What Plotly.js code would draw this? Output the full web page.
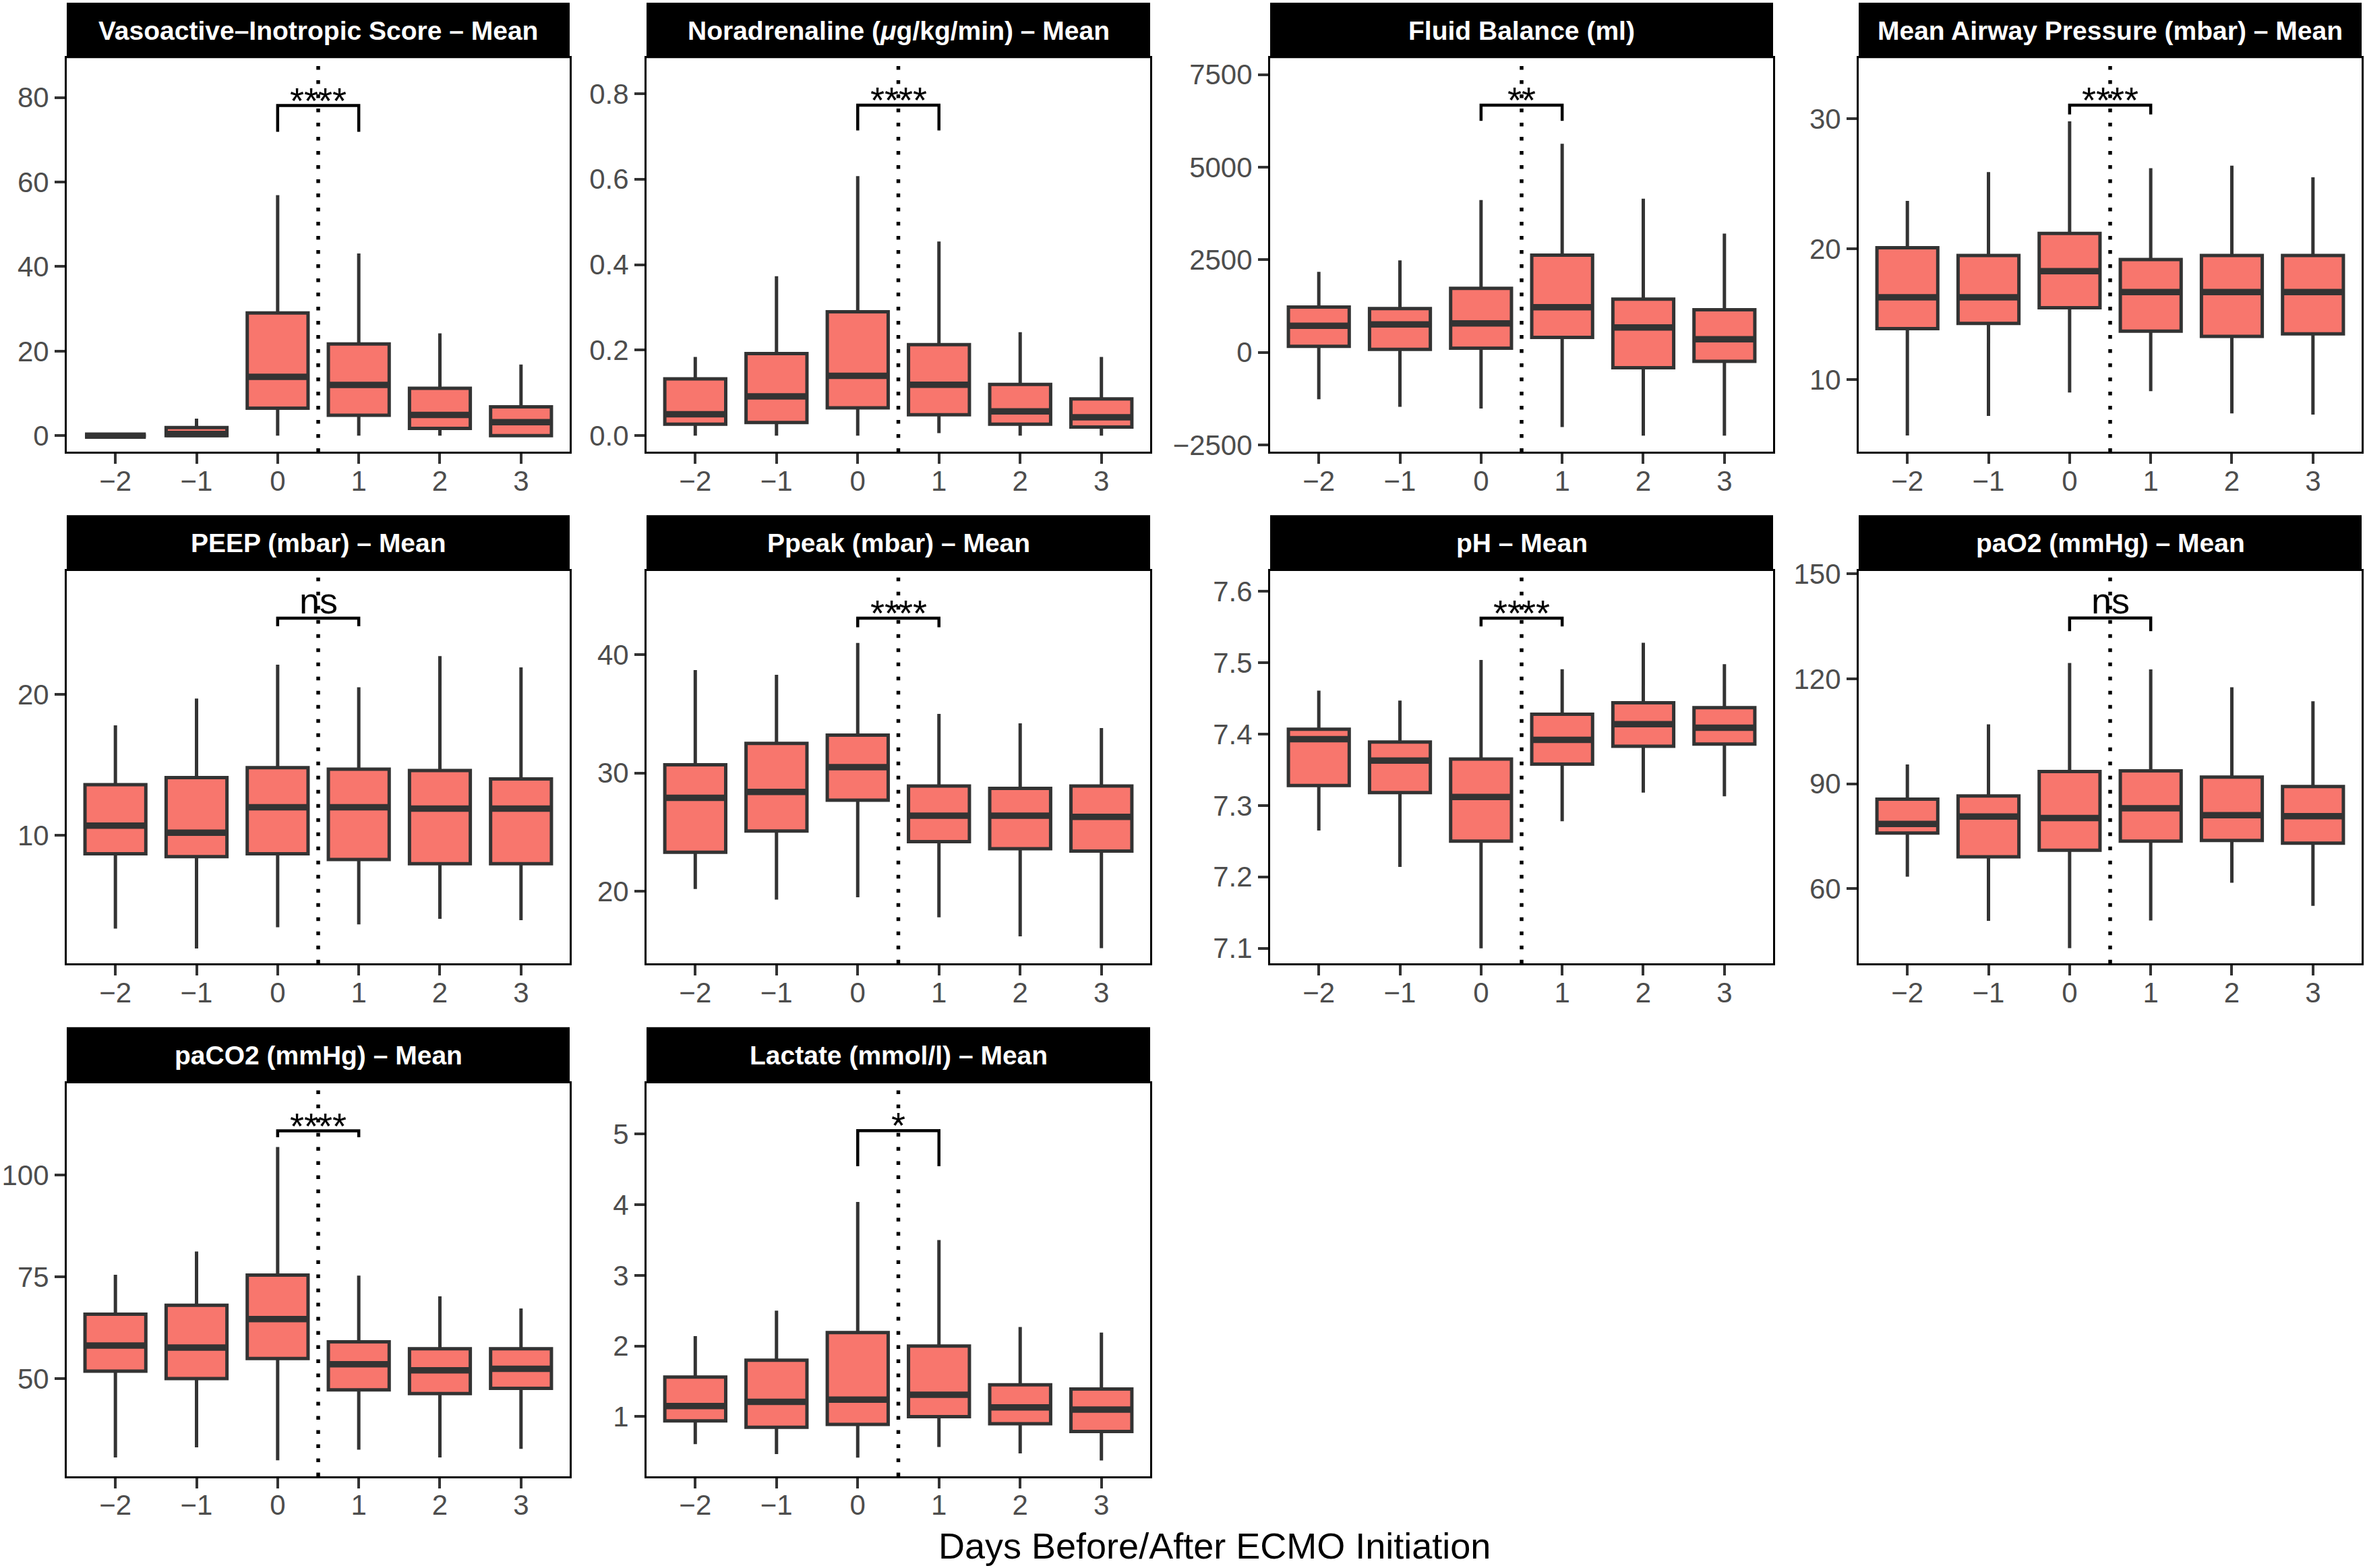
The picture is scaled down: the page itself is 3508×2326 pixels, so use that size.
<!DOCTYPE html>
<html>
<head>
<meta charset="utf-8">
<script src="https://cdn.plot.ly/plotly-3.0.1.min.js"></script>
<style>html,body{margin:0;padding:0;background:#fff;}#chart{width:3508px;height:2326px;}</style>
</head>
<body>
<div id="chart"></div>
<script>
// ---------- data ----------
const days = [-2, -1, 0, 1, 2, 3];
const xTickLabels = ['\u22122', '\u22121', '0', '1', '2', '3'];

const panelTitles = [
  'Vasoactive\u2013Inotropic Score \u2013 Mean',
  'Noradrenaline (<i>\u03bc</i>g/kg/min) \u2013 Mean',
  'Fluid Balance (ml)',
  'Mean Airway Pressure (mbar) \u2013 Mean',
  'PEEP (mbar) \u2013 Mean',
  'Ppeak (mbar) \u2013 Mean',
  'pH \u2013 Mean',
  'paO2 (mmHg) \u2013 Mean',
  'paCO2 (mmHg) \u2013 Mean',
  'Lactate (mmol/l) \u2013 Mean'
];

// Vasoactive-Inotropic Score
const visLower  = [0, 0, 0, 0, 0, 0];
const visQ1     = [0, 0, 6.5, 4.8, 1.7, 0];
const visMedian = [0, 0.4, 13.9, 12.0, 4.9, 3.2];
const visQ3     = [0, 1.9, 29.0, 21.7, 11.2, 6.8];
const visUpper  = [0, 4.0, 56.9, 43.1, 24.2, 16.8];

// Noradrenaline
const norLower  = [0, 0, 0, 0.006, 0, 0];
const norQ1     = [0.027, 0.031, 0.065, 0.049, 0.027, 0.020];
const norMedian = [0.050, 0.092, 0.140, 0.119, 0.057, 0.043];
const norQ3     = [0.133, 0.192, 0.290, 0.213, 0.120, 0.086];
const norUpper  = [0.184, 0.373, 0.607, 0.454, 0.242, 0.184];

// Fluid balance
const fluLower  = [-1271, -1474, -1518, -2021, -2251, -2251];
const fluQ1     = [160, 80, 110, 400, -420, -245];
const fluMedian = [715, 750, 777, 1218, 671, 353];
const fluQ3     = [1220, 1180, 1725, 2625, 1435, 1150];
const fluUpper  = [2171, 2480, 4113, 5631, 4148, 3204];

// Mean airway pressure
const mapLower  = [5.7, 7.2, 9.0, 9.1, 7.4, 7.3];
const mapQ1     = [13.9, 14.3, 15.5, 13.7, 13.3, 13.5];
const mapMedian = [16.3, 16.3, 18.3, 16.7, 16.7, 16.7];
const mapQ3     = [20.1, 19.5, 21.2, 19.2, 19.5, 19.5];
const mapUpper  = [23.7, 25.9, 29.8, 26.2, 26.4, 25.5];

// PEEP
const peepLower  = [3.4, 2.0, 3.5, 3.7, 4.1, 4.0];
const peepQ1     = [8.7, 8.5, 8.7, 8.3, 8.0, 8.0];
const peepMedian = [10.7, 10.2, 12.0, 12.0, 11.9, 11.9];
const peepQ3     = [13.6, 14.1, 14.8, 14.7, 14.6, 14.0];
const peepUpper  = [17.8, 19.7, 22.1, 20.5, 22.7, 21.9];

// Ppeak
const ppkLower  = [20.2, 19.3, 19.5, 17.8, 16.2, 15.2];
const ppkQ1     = [23.3, 25.1, 27.7, 24.2, 23.6, 23.4];
const ppkMedian = [27.9, 28.4, 30.5, 26.4, 26.4, 26.3];
const ppkQ3     = [30.7, 32.5, 33.2, 28.9, 28.7, 28.9];
const ppkUpper  = [38.7, 38.3, 41.0, 35.0, 34.2, 33.8];

// pH
const phLower  = [7.265, 7.214, 7.100, 7.278, 7.318, 7.313];
const phQ1     = [7.328, 7.318, 7.250, 7.358, 7.383, 7.386];
const phMedian = [7.393, 7.363, 7.312, 7.392, 7.414, 7.409];
const phQ3     = [7.407, 7.389, 7.365, 7.428, 7.444, 7.437];
const phUpper  = [7.461, 7.447, 7.504, 7.491, 7.528, 7.498];

// paO2
const pao2Lower  = [63.4, 50.8, 43.0, 50.9, 61.7, 55.1];
const pao2Q1     = [75.9, 69.1, 71.0, 73.6, 73.8, 73.0];
const pao2Median = [78.5, 80.6, 80.2, 83.0, 81.0, 80.7];
const pao2Q3     = [85.6, 86.5, 93.5, 93.7, 91.9, 89.2];
const pao2Upper  = [95.5, 107.0, 124.5, 122.7, 117.6, 113.6];

// paCO2
const paco2Lower  = [30.6, 33.1, 29.9, 32.5, 30.6, 32.7];
const paco2Q1     = [51.8, 50.0, 54.9, 47.2, 46.3, 47.6];
const paco2Median = [58.1, 57.6, 64.6, 53.5, 52.0, 52.4];
const paco2Q3     = [65.8, 68.0, 75.4, 59.0, 57.3, 57.3];
const paco2Upper  = [75.5, 81.2, 106.9, 75.3, 70.2, 67.2];

// Lactate
const lacLower  = [0.61, 0.47, 0.42, 0.57, 0.48, 0.38];
const lacQ1     = [0.94, 0.85, 0.89, 1.00, 0.90, 0.79];
const lacMedian = [1.15, 1.21, 1.24, 1.31, 1.13, 1.10];
const lacQ3     = [1.56, 1.80, 2.19, 2.00, 1.45, 1.39];
const lacUpper  = [2.14, 2.50, 4.04, 3.50, 2.27, 2.19];

// significance brackets (day 0 vs day 1)
const sigLabels   = ['****', '****', '**', '****', 'ns', '****', '****', 'ns', '****', '*'];
const bracketY    = [78.1, 0.773, 6672, 31.03, 25.39, 43.09, 7.5625, 137.4, 110.86, 5.05];
const bracketTipY = [71.9, 0.714, 6249, 30.33, 24.81, 42.32, 7.551, 133.6, 109.29, 4.547];
const bracketFrom = 0, bracketTo = 1;
const ecmoLineX = 0.5;

// y tick values / labels
const yTickVals = [
  [0, 20, 40, 60, 80],
  [0, 0.2, 0.4, 0.6, 0.8],
  [-2500, 0, 2500, 5000, 7500],
  [10, 20, 30],
  [10, 20],
  [20, 30, 40],
  [7.1, 7.2, 7.3, 7.4, 7.5, 7.6],
  [60, 90, 120, 150],
  [50, 75, 100],
  [1, 2, 3, 4, 5]
];
const yTickText = [
  ['0', '20', '40', '60', '80'],
  ['0.0', '0.2', '0.4', '0.6', '0.8'],
  ['\u22122500', '0', '2500', '5000', '7500'],
  ['10', '20', '30'],
  ['10', '20'],
  ['20', '30', '40'],
  ['7.1', '7.2', '7.3', '7.4', '7.5', '7.6'],
  ['60', '90', '120', '150'],
  ['50', '75', '100'],
  ['1', '2', '3', '4', '5']
];

// ---------- layout settings ----------
const yRanges = [
  [-3.86, 89.3], [-0.038, 0.883], [-2692, 7943], [4.44, 34.64],
  [0.93, 28.75], [13.90, 47.10], [7.0786, 7.629], [38.6, 150.9],
  [25.96, 122.56], [0.155, 5.72]
];
const W = 3508, H = 2326;
const colPx = [[99, 845], [959, 1706], [1884, 2630], [2757, 3503]];
const rowPx = [ // [stripTop, plotTop, plotBottom]
  [4, 86.3, 670.4],
  [764.2, 846.6, 1429.3],
  [1523.7, 1607, 2190]
];
const boxWidth = 0.75;
const fillColor = '#F8766D';
const lineColor = '#333333';

const stats = [
  [visLower, visQ1, visMedian, visQ3, visUpper],
  [norLower, norQ1, norMedian, norQ3, norUpper],
  [fluLower, fluQ1, fluMedian, fluQ3, fluUpper],
  [mapLower, mapQ1, mapMedian, mapQ3, mapUpper],
  [peepLower, peepQ1, peepMedian, peepQ3, peepUpper],
  [ppkLower, ppkQ1, ppkMedian, ppkQ3, ppkUpper],
  [phLower, phQ1, phMedian, phQ3, phUpper],
  [pao2Lower, pao2Q1, pao2Median, pao2Q3, pao2Upper],
  [paco2Lower, paco2Q1, paco2Median, paco2Q3, paco2Upper],
  [lacLower, lacQ1, lacMedian, lacQ3, lacUpper]
];

const traces = [];
const shapes = [];
const annotations = [];
const layout = {
  width: W, height: H,
  margin: {l: 0, r: 0, t: 0, b: 0},
  paper_bgcolor: '#ffffff',
  plot_bgcolor: '#ffffff',
  showlegend: false,
  font: {family: 'Liberation Sans, Arial, Helvetica, sans-serif', color: '#000'}
};

stats.forEach((s, i) => {
  const n = i + 1;
  const sfx = n === 1 ? '' : String(n);
  const xa = 'x' + sfx, ya = 'y' + sfx;
  const col = i % 4, row = Math.floor(i / 4);
  const [xl, xr] = colPx[col];
  const [st, pt, pb] = rowPx[row];

  layout['xaxis' + sfx] = {
    domain: [xl / W, xr / W], anchor: ya,
    range: [-2.6, 3.6], tickvals: days, ticktext: xTickLabels,
    ticks: 'outside', ticklen: 15, tickwidth: 4, tickcolor: lineColor,
    ticklabelstandoff: -11,
    tickfont: {size: 42, color: '#4D4D4D'},
    showline: true, mirror: true, linecolor: '#000', linewidth: 3,
    showgrid: false, zeroline: false, fixedrange: true
  };
  layout['yaxis' + sfx] = {
    domain: [1 - pb / H, 1 - pt / H], anchor: xa,
    range: yRanges[i], tickvals: yTickVals[i], ticktext: yTickText[i],
    ticks: 'outside', ticklen: 15, tickwidth: 4, tickcolor: lineColor,
    tickfont: {size: 42, color: '#4D4D4D'},
    showline: true, mirror: true, linecolor: '#000', linewidth: 3,
    showgrid: false, zeroline: false, fixedrange: true
  };

  const [lo, q1, med, q3, up] = s;
  traces.push({
    type: 'box', xaxis: xa, yaxis: ya, x: days,
    lowerfence: lo, q1: q1, median: med, q3: q3, upperfence: up,
    width: boxWidth, whiskerwidth: 0, boxpoints: false,
    fillcolor: fillColor, line: {color: lineColor, width: 5},
    hoverinfo: 'skip'
  });
  // thick median bars (ggplot "fatten")
  const mx = [], my = [];
  days.forEach((d, k) => { mx.push(d - boxWidth / 2, d + boxWidth / 2, null); my.push(med[k], med[k], null); });
  traces.push({
    type: 'scatter', mode: 'lines', xaxis: xa, yaxis: ya, x: mx, y: my,
    line: {color: lineColor, width: 9.5}, hoverinfo: 'skip'
  });

  // ECMO initiation dotted line
  shapes.push({
    type: 'line', xref: xa, yref: ya + ' domain', x0: ecmoLineX, x1: ecmoLineX, y0: 0, y1: 1,
    line: {color: '#000', width: 5.5, dash: '5.5px,15.5px'}, layer: 'above'
  });
  // significance bracket
  shapes.push({
    type: 'path', xref: xa, yref: ya,
    path: `M ${bracketFrom},${bracketTipY[i]} L ${bracketFrom},${bracketY[i]} L ${bracketTo},${bracketY[i]} L ${bracketTo},${bracketTipY[i]}`,
    line: {color: '#000', width: 4.5}, layer: 'above'
  });
  const isStars = sigLabels[i].indexOf('*') >= 0;
  annotations.push({
    xref: xa, yref: ya, x: (bracketFrom + bracketTo) / 2, y: bracketY[i],
    text: sigLabels[i], showarrow: false, yanchor: 'bottom', yshift: isStars ? -24 : -6,
    font: {size: 54, color: '#000'}
  });

  // facet strip
  shapes.push({
    type: 'rect', xref: 'paper', yref: 'paper',
    x0: xl / W, x1: xr / W, y0: 1 - pt / H, y1: 1 - st / H,
    fillcolor: '#000', line: {width: 0}
  });
  annotations.push({
    xref: 'paper', yref: 'paper', x: (xl + xr) / 2 / W, y: 1 - (st + pt) / 2 / H,
    text: '<b>' + panelTitles[i] + '</b>', showarrow: false,
    xanchor: 'center', yanchor: 'middle',
    font: {size: 39, color: '#ffffff'}
  });
});

annotations.push({
  xref: 'paper', yref: 'paper', x: (colPx[0][0] + colPx[3][1]) / 2 / W, y: 1 - 2293 / H,
  text: 'Days Before/After ECMO Initiation', showarrow: false,
  xanchor: 'center', yanchor: 'middle', font: {size: 54, color: '#000'}
});

layout.shapes = shapes;
layout.annotations = annotations;

Plotly.newPlot('chart', traces, layout, {staticPlot: true, displayModeBar: false});
</script>
</body>
</html>
